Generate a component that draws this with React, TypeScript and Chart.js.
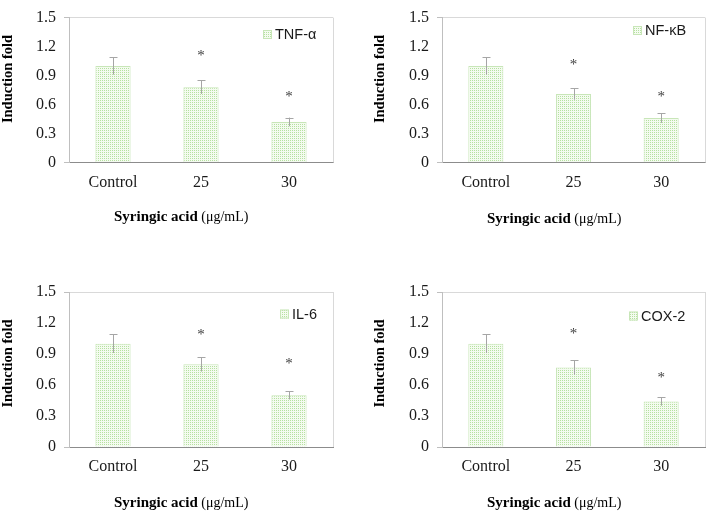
import React, { useEffect, useRef } from "react";
import { Chart, registerables } from "chart.js";

Chart.register(...registerables);

// ---------- data ----------
const categories = ["Control", "25", "30"];
const yTicks = [0, 0.3, 0.6, 0.9, 1.2, 1.5];

const tnfValues = [1.0, 0.78, 0.42];
const tnfErrors = [0.09, 0.07, 0.045];
const tnfStars = [null, 1.13, 0.71];

const nfkbValues = [1.0, 0.71, 0.46];
const nfkbErrors = [0.09, 0.06, 0.05];
const nfkbStars = [null, 1.045, 0.71];

const il6Values = [1.0, 0.8, 0.5];
const il6Errors = [0.09, 0.07, 0.04];
const il6Stars = [null, 1.11, 0.83];

const cox2Values = [1.0, 0.77, 0.44];
const cox2Errors = [0.09, 0.07, 0.04];
const cox2Stars = [null, 1.12, 0.7];

const yTitleText = "Induction fold";
const xTitleBold = "Syringic acid";
const xTitleUnit = "(μg/mL)";

// ---------- layout / style ----------
const W = 354;
const H = 256;
const Y_AXIS_W = 40;
const X_AXIS_H = 30;
const SERIF = "'Liberation Serif', 'Times New Roman', serif";
const SANS = "'Liberation Sans', Arial, sans-serif";

type Panel = {
  label: string;
  values: number[];
  errors: number[];
  stars: (number | null)[];
  left: number;
  top: number;
  area: { l: number; r: number; t: number; b: number };
  yTitle: { x: number; y: number };
  xTitle: { x: number; y: number };
  legend: { x: number; y: number };
};

const panels: Panel[] = [
  {
    label: "TNF-α", values: tnfValues, errors: tnfErrors, stars: tnfStars,
    left: 0, top: 0,
    area: { l: 69, r: 333, t: 7.5, b: 162.5 },
    yTitle: { x: 8, y: 79 }, xTitle: { x: 114, y: 217.5 }, legend: { x: 263, y: 34.5 },
  },
  {
    label: "NF-κB", values: nfkbValues, errors: nfkbErrors, stars: nfkbStars,
    left: 354, top: 0,
    area: { l: 88, r: 351, t: 7.5, b: 162.5 },
    yTitle: { x: 26, y: 79 }, xTitle: { x: 133, y: 219 }, legend: { x: 279, y: 30.5 },
  },
  {
    label: "IL-6", values: il6Values, errors: il6Errors, stars: il6Stars,
    left: 0, top: 256,
    area: { l: 69, r: 333, t: 36, b: 191 },
    yTitle: { x: 8, y: 107.5 }, xTitle: { x: 114, y: 247 }, legend: { x: 280, y: 58 },
  },
  {
    label: "COX-2", values: cox2Values, errors: cox2Errors, stars: cox2Stars,
    left: 354, top: 256,
    area: { l: 88, r: 351, t: 36, b: 191 },
    yTitle: { x: 26, y: 107.5 }, xTitle: { x: 133, y: 247 }, legend: { x: 275, y: 60 },
  },
];

function makePattern(): CanvasPattern | string {
  const pc = document.createElement("canvas");
  pc.width = 2;
  pc.height = 2;
  const g = pc.getContext("2d");
  if (!g) return "#dcf0d0";
  g.fillStyle = "#f4fbf0";
  g.fillRect(0, 0, 2, 2);
  g.fillStyle = "#b6e1a0";
  g.fillRect(0, 0, 1, 1);
  const p = g.createPattern(pc, "repeat");
  return p || "#dcf0d0";
}

const decorPlugin = {
  id: "panelDecor",
  afterDatasetsDraw(chart: any, _args: any, opts: any) {
    const ctx = chart.ctx;
    const meta = chart.getDatasetMeta(0);
    const ys = chart.scales.y;
    ctx.save();
    // error bars
    ctx.strokeStyle = "#a6a6a6";
    ctx.lineWidth = 1;
    meta.data.forEach((bar: any, i: number) => {
      const v = opts.values[i];
      const e = opts.errors[i];
      const x = Math.round(bar.x) + 0.5;
      const yTop = ys.getPixelForValue(v + e);
      const yBot = ys.getPixelForValue(v - e);
      ctx.beginPath();
      ctx.moveTo(x, yTop);
      ctx.lineTo(x, yBot);
      ctx.moveTo(x - 4, Math.round(yTop) + 0.5);
      ctx.lineTo(x + 4, Math.round(yTop) + 0.5);
      ctx.stroke();
    });
    // significance stars
    ctx.fillStyle = "#404040";
    ctx.font = `15px ${SERIF}`;
    ctx.textAlign = "center";
    ctx.textBaseline = "alphabetic";
    meta.data.forEach((bar: any, i: number) => {
      const s = opts.stars[i];
      if (s === null || s === undefined) return;
      ctx.fillText("*", bar.x, ys.getPixelForValue(s) + 7);
    });
    ctx.restore();
  },
  afterDraw(chart: any, _args: any, opts: any) {
    const ctx = chart.ctx;
    const a = chart.chartArea;
    ctx.save();
    // right border
    ctx.strokeStyle = "#d9d9d9";
    ctx.lineWidth = 1;
    ctx.beginPath();
    ctx.moveTo(Math.round(a.right) + 0.5, a.top);
    ctx.lineTo(Math.round(a.right) + 0.5, a.bottom);
    ctx.stroke();

    // y title
    ctx.fillStyle = "#000";
    ctx.save();
    ctx.translate(opts.yTitle.x, opts.yTitle.y);
    ctx.rotate(-Math.PI / 2);
    ctx.font = `bold 14.5px ${SERIF}`;
    ctx.textAlign = "center";
    ctx.textBaseline = "middle";
    ctx.fillText(yTitleText, 0, 0);
    ctx.restore();

    // x title
    ctx.textAlign = "left";
    ctx.textBaseline = "middle";
    ctx.font = `bold 15px ${SERIF}`;
    ctx.fillText(xTitleBold, opts.xTitle.x, opts.xTitle.y);
    const w = ctx.measureText(xTitleBold).width;
    ctx.font = `14px ${SERIF}`;
    ctx.fillText(xTitleUnit, opts.xTitle.x + w + 3.5, opts.xTitle.y);

    // legend
    const lx = opts.legend.x;
    const ly = opts.legend.y;
    ctx.fillStyle = opts.pattern;
    ctx.fillRect(lx, ly - 4.5, 9, 9);
    ctx.strokeStyle = "#c8e6b8";
    ctx.strokeRect(lx + 0.5, ly - 4, 8, 8);
    ctx.fillStyle = "#1a1a1a";
    ctx.font = `14.5px ${SANS}`;
    ctx.textAlign = "left";
    ctx.textBaseline = "middle";
    ctx.fillText(opts.label, lx + 12, ly + 0.5);
    ctx.restore();
  },
};

function PanelChart({ p }: { p: Panel }) {
  const ref = useRef<HTMLCanvasElement | null>(null);
  useEffect(() => {
    if (!ref.current) return;
    const pattern = makePattern();
    const chart = new Chart(ref.current, {
      type: "bar",
      data: {
        labels: categories,
        datasets: [
          {
            label: p.label,
            data: p.values,
            backgroundColor: pattern as any,
            borderColor: "#c8e6b8",
            borderWidth: 1,
            barPercentage: 0.4,
            categoryPercentage: 1,
          },
        ],
      },
      options: {
        responsive: true,
        maintainAspectRatio: false,
        animation: false,
        devicePixelRatio: 1,
        layout: {
          autoPadding: false,
          padding: {
            left: p.area.l - Y_AXIS_W,
            right: W - p.area.r,
            top: p.area.t,
            bottom: H - p.area.b - X_AXIS_H,
          },
        },
        plugins: {
          legend: { display: false },
          tooltip: { enabled: false },
          panelDecor: {
            values: p.values,
            errors: p.errors,
            stars: p.stars,
            label: p.label,
            yTitle: p.yTitle,
            xTitle: p.xTitle,
            legend: p.legend,
            pattern,
          },
        } as any,
        scales: {
          x: {
            afterFit: (s: any) => {
              s.height = X_AXIS_H;
            },
            grid: { display: true, drawOnChartArea: false, drawTicks: false },
            border: { display: true, color: "#8c8c8c", width: 1 },
            ticks: {
              padding: 10.5,
              color: "#1a1a1a",
              font: { family: SERIF, size: 16 },
            },
          },
          y: {
            min: 0,
            max: 1.5,
            afterFit: (s: any) => {
              s.width = Y_AXIS_W;
            },
            afterBuildTicks: (s: any) => {
              s.ticks = yTicks.map((v) => ({ value: v }));
            },
            grid: {
              drawOnChartArea: true,
              drawTicks: true,
              tickLength: 5,
              color: (c: any) => (c.tick && c.tick.value === 1.5 ? "#d9d9d9" : "rgba(0,0,0,0)"),
              tickColor: (c: any) =>
                c.tick && (c.tick.value === 1.5 || c.tick.value === 0) ? "#bfbfbf" : "rgba(0,0,0,0)",
            },
            border: { display: true, color: "#bfbfbf", width: 1 },
            ticks: {
              padding: 8,
              color: "#1a1a1a",
              font: { family: SERIF, size: 16 },
              callback: (v: any) => (Number(v) === 0 ? "0" : Number(v).toFixed(1)),
            },
          },
        },
      },
      plugins: [decorPlugin as any],
    });
    return () => chart.destroy();
  }, [p]);
  return (
    <div style={{ position: "absolute", left: p.left, top: p.top, width: W, height: H }}>
      <canvas ref={ref} />
    </div>
  );
}

export default function App() {
  return (
    <div
      style={{
        position: "fixed",
        left: 0,
        top: 0,
        width: 708,
        height: 512,
        background: "#ffffff",
        overflow: "hidden",
      }}
    >
      {panels.map((p) => (
        <PanelChart key={p.label} p={p} />
      ))}
    </div>
  );
}
